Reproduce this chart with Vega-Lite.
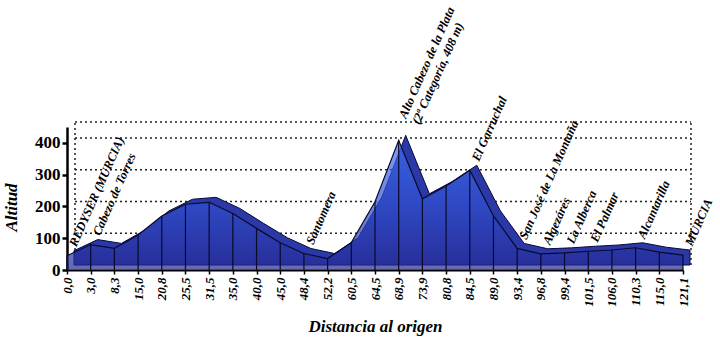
{
  "$schema": "https://vega.github.io/schema/vega-lite/v6.json",
  "width": 616,
  "height": 143,
  "autosize": "none",
  "padding": {"left": 67, "top": 127, "right": 37, "bottom": 82},
  "background": "white",
  "config": {
    "view": {"stroke": null},
    "font": "Liberation Serif",
    "axisY": {"labelOverlap": false, "labelBound": false, "labelFlush": false}
  },
  "datasets": {
    "profile": [
      {"d": "0,0", "alt": 45, "label": "REDYSER (MURCIA)"},
      {"d": "3,0", "alt": 80, "label": "Cabezo de Torres"},
      {"d": "8,3", "alt": 68, "label": null},
      {"d": "15,0", "alt": 110, "label": null},
      {"d": "20,8", "alt": 170, "label": null},
      {"d": "25,5", "alt": 207, "label": null},
      {"d": "31,5", "alt": 213, "label": null},
      {"d": "35,0", "alt": 178, "label": null},
      {"d": "40,0", "alt": 131, "label": null},
      {"d": "45,0", "alt": 86, "label": null},
      {"d": "48,4", "alt": 52, "label": "Santomera"},
      {"d": "52,2", "alt": 36, "label": null},
      {"d": "60,5", "alt": 86, "label": null},
      {"d": "64,5", "alt": 215, "label": null},
      {"d": "68,9", "alt": 408, "label": null},
      {"d": "73,9", "alt": 224, "label": null},
      {"d": "80,8", "alt": 264, "label": null},
      {"d": "84,5", "alt": 314, "label": "El Garruchal"},
      {"d": "89,0", "alt": 170, "label": null},
      {"d": "93,4", "alt": 68, "label": "San José de La Montaña"},
      {"d": "96,8", "alt": 51, "label": "Algezáres"},
      {"d": "99,4", "alt": 54, "label": "La Alberca"},
      {"d": "101,5", "alt": 59, "label": "El Palmar"},
      {"d": "106,0", "alt": 63, "label": null},
      {"d": "110,3", "alt": 70, "label": "Alcantarilla"},
      {"d": "115,0", "alt": 56, "label": null},
      {"d": "121,1", "alt": 47, "label": "MURCIA"}
    ],
    "peak": [
      {"d": "68,9", "alt": 408, "label": "Alto Cabezo de la Plata\n(2ª Categoría, 408 m)"}
    ],
    "grid": [
      {"g": 100, "a": "0,0", "b": "121,1"},
      {"g": 200, "a": "0,0", "b": "121,1"},
      {"g": 300, "a": "0,0", "b": "121,1"},
      {"g": 400, "a": "0,0", "b": "121,1"},
      {"g": 450, "a": "0,0", "b": "121,1"}
    ],
    "wall": [
      {"d": "0,0", "lo": 0, "hi": 450},
      {"d": "121,1", "lo": 0, "hi": 450}
    ]
  },
  "layer": [
    {
      "data": {"name": "grid"},
      "mark": {"type": "rule", "color": "#222", "strokeWidth": 1.5, "strokeDash": [2, 3], "xOffset": 8, "x2Offset": 8, "yOffset": -5},
      "encoding": {
        "y": {
          "field": "g", "type": "quantitative",
          "scale": {"domain": [0, 450], "nice": false},
          "axis": {
            "title": "Altitud",
            "titleFont": "Liberation Serif", "titleFontSize": 17, "titleFontStyle": "italic", "titleFontWeight": "bold", "titleColor": "black",
            "titlePadding": 14, "titleY": 80,
            "tickCount": 5,
            "labelOverlap": false,
            "labelFont": "Liberation Serif", "labelFontSize": 17, "labelFontWeight": "bold", "labelColor": "black",
            "labelPadding": 2,
            "domainColor": "black", "domainWidth": 2.5,
            "tickColor": "black", "tickSize": 5, "tickWidth": 2.5,
            "grid": false
          }
        },
        "x": {
          "field": "a", "type": "ordinal",
          "scale": {"type": "point", "padding": 0, "domain": ["0,0", "3,0", "8,3", "15,0", "20,8", "25,5", "31,5", "35,0", "40,0", "45,0", "48,4", "52,2", "60,5", "64,5", "68,9", "73,9", "80,8", "84,5", "89,0", "93,4", "96,8", "99,4", "101,5", "106,0", "110,3", "115,0", "121,1"]},
          "axis": {
            "title": "Distancia al origen",
            "titleFont": "Liberation Serif", "titleFontSize": 17, "titleFontStyle": "italic", "titleFontWeight": "bold", "titleColor": "black",
            "titlePadding": 12,
            "labelAngle": 270, "labelFont": "Liberation Serif", "labelFontSize": 13, "labelFontStyle": "italic", "labelFontWeight": "bold", "labelColor": "black",
            "labelPadding": 3,
            "domainColor": "black", "domainWidth": 2,
            "tickColor": "black", "tickSize": 4, "tickWidth": 1.5,
            "grid": false
          }
        },
        "x2": {"field": "b"}
      }
    },
    {
      "data": {"name": "wall"},
      "mark": {"type": "rule", "color": "#222", "strokeWidth": 1.5, "strokeDash": [2, 3], "xOffset": 8, "yOffset": -5, "y2Offset": -5},
      "encoding": {
        "x": {"field": "d", "type": "ordinal", "sort": null},
        "y": {"field": "lo", "type": "quantitative"},
        "y2": {"field": "hi"}
      }
    },
    {
      "data": {"name": "profile"},
      "mark": {"type": "area", "color": "#2b38a8", "stroke": "#0a0a3a", "strokeWidth": 1, "xOffset": 7, "yOffset": -5, "y2Offset": -5},
      "encoding": {
        "x": {"field": "d", "type": "ordinal", "sort": null},
        "y": {"field": "alt", "type": "quantitative"}
      }
    },
    {
      "data": {"name": "profile"},
      "mark": {
        "type": "area",
        "line": {"color": "#0a0a2a", "strokeWidth": 1.2},
        "color": {
          "gradient": "linear", "x1": 0, "y1": 0, "x2": 0, "y2": 1,
          "stops": [
            {"offset": 0, "color": "#3f72f7"},
            {"offset": 0.5, "color": "#3150d0"},
            {"offset": 1, "color": "#252890"}
          ]
        }
      },
      "encoding": {
        "x": {"field": "d", "type": "ordinal", "sort": null},
        "y": {"field": "alt", "type": "quantitative"}
      }
    },
    {
      "data": {"name": "profile"},
      "mark": {"type": "bar", "color": "#0a0a2a", "size": 1.2},
      "encoding": {
        "x": {"field": "d", "type": "ordinal", "sort": null},
        "y": {"field": "alt", "type": "quantitative"}
      }
    },
    {
      "data": {"name": "profile"},
      "transform": [{"filter": "datum.label != null"}],
      "mark": {"type": "text", "angle": 294, "align": "left", "baseline": "bottom", "font": "Liberation Serif", "fontSize": 12.5, "fontStyle": "italic", "fontWeight": "bold", "color": "black", "xOffset": 12, "yOffset": -7},
      "encoding": {
        "x": {"field": "d", "type": "ordinal", "sort": null},
        "y": {"field": "alt", "type": "quantitative"},
        "text": {"field": "label"}
      }
    },
    {
      "data": {"name": "peak"},
      "mark": {"type": "text", "angle": 294, "align": "left", "baseline": "bottom", "lineBreak": "\n", "font": "Liberation Serif", "fontSize": 12.5, "fontStyle": "italic", "fontWeight": "bold", "color": "black", "xOffset": 10, "yOffset": -20},
      "encoding": {
        "x": {"field": "d", "type": "ordinal", "sort": null},
        "y": {"field": "alt", "type": "quantitative"},
        "text": {"field": "label"}
      }
    }
  ]
}
